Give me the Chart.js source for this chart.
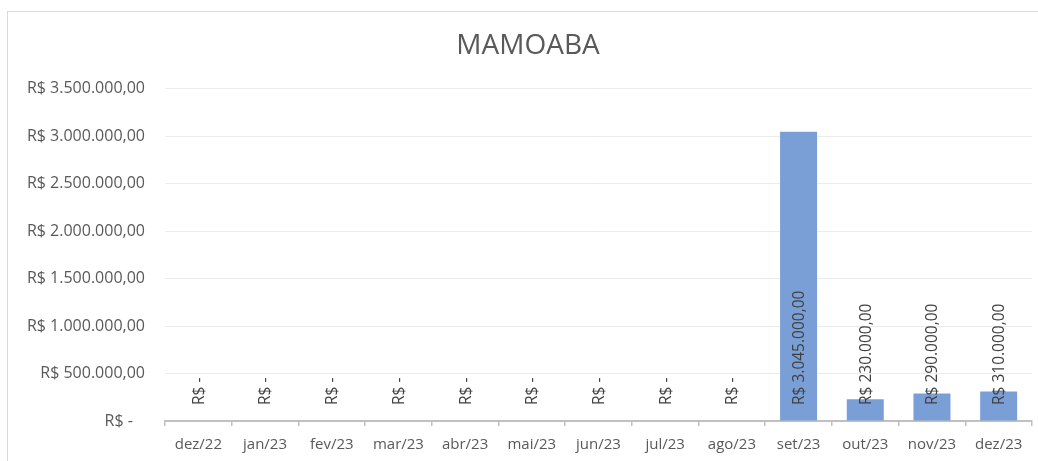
<!DOCTYPE html>
<html>
<head>
<meta charset="utf-8">
<script src="https://cdn.jsdelivr.net/npm/chart.js@4/dist/chart.umd.min.js"></script>
<style>
  html, body { margin: 0; padding: 0; background: #fff; }
  #wrap { width: 1038px; height: 461px; position: relative; }
</style>
</head>
<body>
<div id="wrap"><canvas id="chart" width="1038" height="461"></canvas></div>
<script>
const months = ['dez/22', 'jan/23', 'fev/23', 'mar/23', 'abr/23', 'mai/23', 'jun/23',
  'jul/23', 'ago/23', 'set/23', 'out/23', 'nov/23', 'dez/23'];
const values = [0, 0, 0, 0, 0, 0, 0, 0, 0, 3045000, 230000, 290000, 310000];
const chartTitle = 'MAMOABA';

const fontFamily = '"Open Sans", "Noto Sans", sans-serif';

function brl(v) {
  if (v === 0) return 'R$ -';
  const parts = v.toFixed(2).split('.');
  const intPart = parts[0].replace(/\B(?=(\d{3})+(?!\d))/g, '.');
  return 'R$ ' + intPart + ',' + parts[1];
}

// frame of the chart box (top and left edges visible)
const framePlugin = {
  id: 'frame',
  beforeDraw(chart) {
    const ctx = chart.ctx;
    ctx.save();
    ctx.strokeStyle = '#d9d9d9';
    ctx.lineWidth = 1;
    ctx.strokeRect(7.5, 11.5, 2000, 1000);
    ctx.restore();
  }
};

// vertical value labels, starting just above the base of each bar
const barLabels = {
  id: 'barLabels',
  afterDatasetsDraw(chart) {
    const ctx = chart.ctx;
    const meta = chart.getDatasetMeta(0);
    const base = chart.scales.y.getPixelForValue(0) - 16;
    ctx.save();
    ctx.fillStyle = '#404040';
    ctx.font = '15.5px ' + fontFamily;
    ctx.textAlign = 'left';
    ctx.textBaseline = 'middle';
    meta.data.forEach((bar, i) => {
      ctx.save();
      ctx.translate(bar.x, base);
      ctx.rotate(-Math.PI / 2);
      ctx.fillText(brl(values[i]), 0, 1);
      ctx.restore();
    });
    ctx.restore();
  }
};

new Chart(document.getElementById('chart'), {
  type: 'bar',
  data: {
    labels: months,
    datasets: [{
      data: values,
      backgroundColor: '#7a9fd7',
      barPercentage: 0.555,
      categoryPercentage: 1
    }]
  },
  options: {
    responsive: false,
    animation: false,
    layout: { padding: { left: 24, right: 6, top: 0, bottom: 0 } },
    plugins: {
      legend: { display: false },
      tooltip: { enabled: false },
      title: {
        display: true,
        text: chartTitle,
        color: '#595959',
        font: { family: fontFamily, size: 28, weight: 'normal' },
        padding: { top: 29, bottom: 26 }
      }
    },
    scales: {
      x: {
        grid: {
          drawOnChartArea: false,
          drawTicks: true,
          tickLength: 5,
          color: '#c0c0c0',
          lineWidth: 1.5
        },
        border: { display: true, color: '#c0c0c0', width: 2 },
        ticks: {
          color: '#595959',
          font: { family: fontFamily, size: 15 },
          padding: 10,
          maxRotation: 0,
          autoSkip: false
        },
        afterFit(scale) { scale.height = 40; }
      },
      y: {
        min: 0,
        max: 3500000,
        grid: { color: '#ebebeb', lineWidth: 1, drawTicks: false },
        border: { display: false },
        ticks: {
          stepSize: 500000,
          color: '#595959',
          font: { family: fontFamily, size: 16 },
          padding: 20,
          callback: (v) => v === 0 ? 'R$ -\u2002 ' : brl(v)
        },
        afterFit(scale) { scale.width = 141; }
      }
    }
  },
  plugins: [framePlugin, barLabels]
});
</script>
</body>
</html>
